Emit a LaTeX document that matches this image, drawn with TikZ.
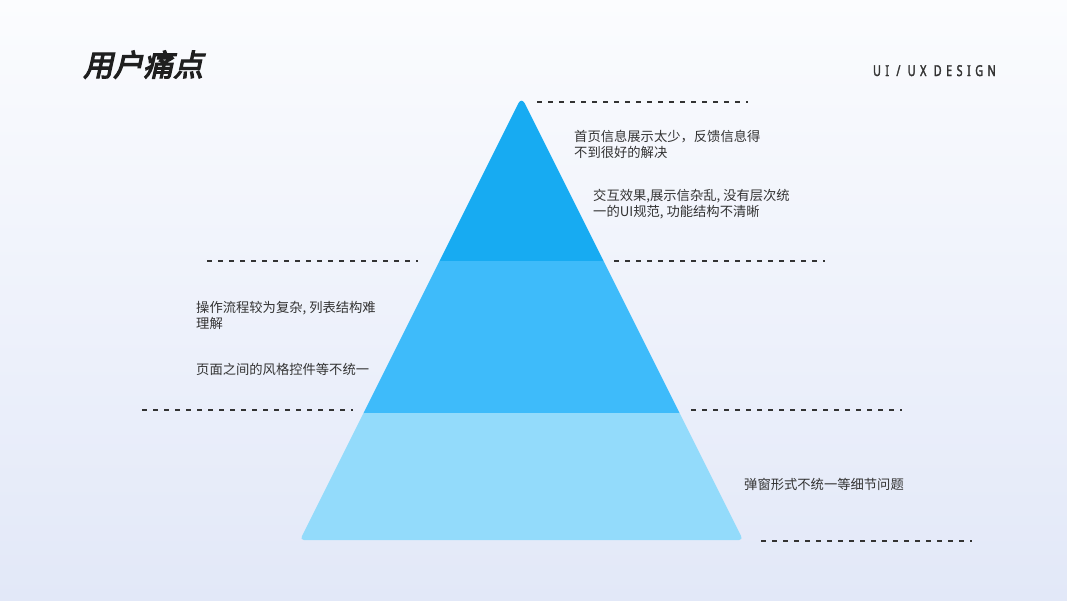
\documentclass[tikz,border=0pt]{standalone}
\usepackage{fontspec}
\setmainfont{Noto Sans CJK SC}
\newfontfamily\cjk{Noto Sans CJK SC}
\newfontfamily\titlefont[FakeSlant=0.22,FakeBold=4]{Noto Sans CJK SC}
\newfontfamily\desfont[FakeStretch=0.72,LetterSpace=30,FakeBold=2]{Noto Sans}
\definecolor{bgtop}{HTML}{FBFCFE}
\definecolor{bgbot}{HTML}{E2E8F8}
\definecolor{layerA}{HTML}{17ABF2}
\definecolor{layerB}{HTML}{3EBBFA}
\definecolor{layerC}{HTML}{93DBFB}
\definecolor{ink}{HTML}{333333}
\tikzset{
  body/.style={anchor=base west,inner sep=0pt,text=ink,font=\cjk\fontsize{13.3}{16}\selectfont},
  guide/.style={draw=ink,line width=1.2pt,dash pattern=on 5pt off 6pt},
}
\begin{document}
\begin{tikzpicture}[x=1pt,y=-1pt]
\useasboundingbox (0,0) rectangle (1067,600);
\shade[top color=bgtop,bottom color=bgbot] (0,0) rectangle (1067,600);
% pyramid geometry
\coordinate (apex) at (521.5,97);
\coordinate (l1) at (439.5,261); \coordinate (r1) at (603.5,261);
\coordinate (l2) at (363.5,413); \coordinate (r2) at (679.5,413);
\coordinate (l3) at (300,540); \coordinate (r3) at (743,540);
\fill[layerA] (l1) [rounded corners=7pt] -- (apex) [sharp corners] -- (r1) -- cycle;
\fill[layerB] (l1) -- (r1) -- (r2) -- (l2) -- cycle;
\fill[layerC] (l2) -- (r2) [rounded corners=4pt] -- (r3) -- (l3) [sharp corners] -- (l2) -- cycle;
% dashed guides
\coordinate (g0a) at (537,102); \coordinate (g0b) at (748,102);
\coordinate (g1a) at (207,261); \coordinate (g1b) at (418,261);
\coordinate (g1c) at (614,261); \coordinate (g1d) at (825,261);
\coordinate (g2a) at (142,410); \coordinate (g2b) at (353,410);
\coordinate (g2c) at (691,410); \coordinate (g2d) at (902,410);
\coordinate (g3a) at (761,541); \coordinate (g3b) at (972,541);
\draw[guide] (g0a) -- (g0b);
\draw[guide] (g1a) -- (g1b);
\draw[guide] (g1c) -- (g1d);
\draw[guide] (g2a) -- (g2b);
\draw[guide] (g2c) -- (g2d);
\draw[guide] (g3a) -- (g3b);
% title
\node[anchor=base west,inner sep=0pt,text=black!88,font=\titlefont\fontsize{30}{32}\selectfont] (title) at (83,76) {用户痛点};
\node[anchor=base east,inner sep=0pt,text=ink,font=\desfont\fontsize{15}{16}\selectfont] (tag) at (996,76) {UI / UX DESIGN};
% texts
\node[body] (t1a) at (574,141) {首页信息展示太少，反馈信息得};
\node[body] (t1b) at (574,157) {不到很好的解决};
\node[body] (t2a) at (593,200) {交互效果,展示信杂乱, 没有层次统};
\node[body] (t2b) at (593,216) {一的UI规范, 功能结构不清晰};
\node[body] (t3a) at (196,312) {操作流程较为复杂, 列表结构难};
\node[body] (t3b) at (196,328) {理解};
\node[body] (t4) at (196,374) {页面之间的风格控件等不统一};
\node[body] (t5) at (744,489) {弹窗形式不统一等细节问题};
\end{tikzpicture}
\end{document}
